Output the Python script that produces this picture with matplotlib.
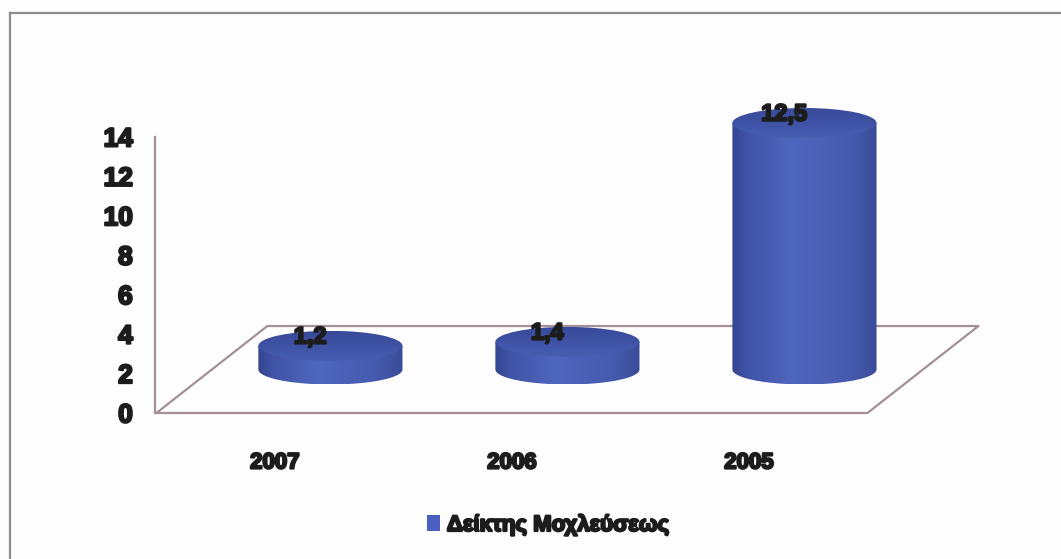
import numpy as np
import matplotlib
matplotlib.use("Agg")
import matplotlib.pyplot as plt
from matplotlib.patches import Polygon, Ellipse, Patch
from matplotlib.colors import LinearSegmentedColormap
from matplotlib.lines import Line2D
import matplotlib.patheffects as pe

years = ["2007", "2006", "2005"]
values = [1.2, 1.4, 12.5]
value_labels = ["1,2", "1,4", "12,5"]
series_name = "Δείκτης Μοχλεύσεως"
yticks = [0, 2, 4, 6, 8, 10, 12, 14]

plt.rcParams['font.family'] = ['Liberation Sans', 'DejaVu Sans']
txt = '#1c1c1c'
heavy = [pe.withStroke(linewidth=1.6, foreground=txt)]

W, H = 1061, 559
fig = plt.figure(figsize=(W / 100, H / 100), dpi=100, facecolor='#fcfdfc')
ax = fig.add_axes([155 / W, (H - 440) / H, (1000 - 155) / W, (440 - 60) / H])
ax.set_facecolor('none')
ax.set_xlim(-0.506, 3.059)
ax.set_ylim(-1.37, 17.9)
ax.autoscale(False)

# floor of the 3d box
depth_x, depth_y = 0.468, 4.41
n = len(years)
edge = '#a49096'
x0, x1 = -0.5, n - 0.5
ax.plot([x0, x1, x1 + depth_x, x0 + depth_x, x0],
        [0, 0, depth_y, depth_y, 0], color=edge, lw=1.6, zorder=1)

ax.spines[['top', 'right', 'bottom']].set_visible(False)
ax.spines['left'].set_bounds(0, 14)
ax.spines['left'].set_color(edge)
ax.spines['left'].set_linewidth(1.6)
ax.set_yticks(yticks)
ax.set_yticklabels([str(t) for t in yticks], fontsize=19, fontweight='bold',
                   color=txt, path_effects=heavy)
ax.tick_params(axis='y', length=0, pad=16)
ax.set_xticks(range(n))
ax.set_xticklabels(years, fontsize=16, fontweight='bold', color=txt,
                   path_effects=heavy)
ax.tick_params(axis='x', length=0, pad=9)

side_cmap = LinearSegmentedColormap.from_list(
    'side', [(0, '#34468f'), (0.1, '#4053a6'), (0.4, '#4e66bd'),
             (0.8, '#475cb0'), (1, '#3a4c98')])
top_cmap = LinearSegmentedColormap.from_list(
    'top', [(0, '#4860b2'), (0.45, '#3f54a6'), (1, '#384a9a')])

r, b = 0.304, 0.76
grad_h = np.linspace(0, 1, 256).reshape(1, -1)
grad_v = np.linspace(0, 1, 256).reshape(-1, 1)

for i, (v, lab) in enumerate(zip(values, value_labels)):
    xc = i + depth_x / 2
    yb = depth_y / 2
    yt = yb + v
    t = np.linspace(np.pi, 2 * np.pi, 80)
    pts = [(xc - r, yt), (xc - r, yb)]
    pts += list(zip(xc + r * np.cos(t), yb + b * np.sin(t)))
    pts += [(xc + r, yb), (xc + r, yt)]
    side = Polygon(pts, closed=True, facecolor='none', edgecolor='none')
    ax.add_patch(side)
    im = ax.imshow(grad_h, cmap=side_cmap, aspect='auto', origin='lower',
                   extent=[xc - r, xc + r, yb - b, yt], zorder=3)
    im.set_clip_path(side)

    top = Ellipse((xc, yt), 2 * r, 2 * b, facecolor='none', edgecolor='none')
    ax.add_patch(top)
    im2 = ax.imshow(grad_v, cmap=top_cmap, aspect='auto', origin='lower',
                    extent=[xc - r, xc + r, yt - b, yt + b], zorder=4)
    im2.set_clip_path(top)

    ax.text(xc - 0.085, yt + 0.45, lab, ha='center', va='center', fontsize=17,
            fontweight='bold', color=txt, path_effects=heavy, zorder=6)

ax.set_xlim(-0.506, 3.059)
ax.set_ylim(-1.37, 17.9)

# outer chart frame
fig.add_artist(Line2D([10 / W, 1], [1 - 13 / H, 1 - 13 / H], color='#8c8c8c', lw=1.6))
fig.add_artist(Line2D([10 / W, 10 / W], [0, 1 - 13 / H], color='#8c8c8c', lw=1.6))

leg = fig.legend(handles=[Patch(facecolor='#4a5fbf', edgecolor='none', label=series_name)],
                 loc='center', bbox_to_anchor=(548 / W, 1 - 525 / H), frameon=False,
                 handlelength=0.6, handleheight=0.75, handletextpad=0.3,
                 prop={'size': 16, 'weight': 'bold'})
for tx in leg.get_texts():
    tx.set_color(txt)
    tx.set_path_effects(heavy)

fig.savefig('out.png', dpi=100, facecolor=fig.get_facecolor())
